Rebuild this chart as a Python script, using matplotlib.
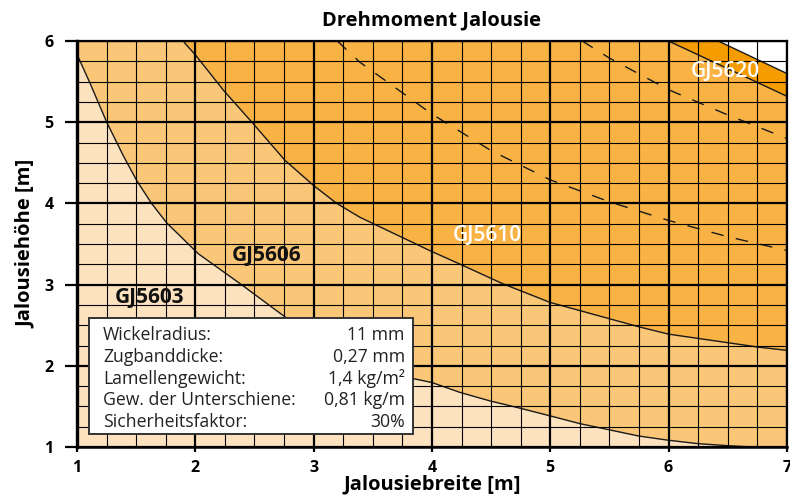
import matplotlib
matplotlib.use("Agg")
import matplotlib.pyplot as plt
from matplotlib.patches import Rectangle
from matplotlib.ticker import MultipleLocator

plt.rcParams['font.family'] = ['Open Sans', 'DejaVu Sans']

# boundary curves (width [m], height [m])
gj5603_w = [1.0, 1.02, 1.11, 1.251, 1.39, 1.505, 1.63, 1.758, 2.025, 2.38, 2.76, 3.0, 3.25, 3.5,
            3.73, 4.0, 4.24, 4.49, 4.745, 5.0, 5.25, 5.505, 5.745, 6.0, 6.25, 6.505, 6.76, 7.0]
gj5603_h = [5.84, 5.77, 5.48, 5.0, 4.59, 4.28, 4.0, 3.76, 3.38, 3.01, 2.60, 2.37, 2.16, 1.99,
            1.877, 1.794, 1.671, 1.568, 1.478, 1.383, 1.288, 1.21, 1.136, 1.083, 1.041, 1.016, 0.996, 0.99]

gj5606_w = [1.90, 1.913, 2.0, 2.237, 2.49, 2.758, 3.0, 3.195, 3.39, 3.98, 4.24, 4.6, 5.0, 5.75, 6.0, 6.76, 7.0]
gj5606_h = [6.0, 5.97, 5.83, 5.395, 4.98, 4.53, 4.22, 4.0, 3.83, 3.42, 3.25, 3.01, 2.78, 2.48, 2.39, 2.23, 2.19]

dash_low_w = [3.2, 3.39, 4.0, 4.5, 5.0, 5.5, 6.0, 6.5, 7.0]
dash_low_h = [6.0, 5.74, 5.10, 4.65, 4.29, 4.02, 3.79, 3.59, 3.42]

dash_up_w = [5.27, 5.5, 6.0, 6.5, 7.0]
dash_up_h = [6.0, 5.79, 5.40, 5.09, 4.80]

gj5610_w = [6.0, 7.0]
gj5610_h = [6.0, 5.32]

gj5620_w = [6.42, 7.0]
gj5620_h = [6.0, 5.60]

info_names = ["Wickelradius:", "Zugbanddicke:", "Lamellengewicht:",
              "Gew. der Unterschiene:", "Sicherheitsfaktor:"]
info_values = ["11 mm", "0,27 mm", "1,4 kg/m\u00b2", "0,81 kg/m", "30%"]

c_light = '#fde2bf'
c_mid = '#fac678'
c_dark = '#f9b244'
c_top = '#f49c00'

fig = plt.figure(figsize=(7.9, 4.97), dpi=100)
ax = fig.add_axes([0.0975, 0.1006, 0.8985, 0.8169])
ax.set_xlim(1, 7)
ax.set_ylim(1, 6)

# colour bands, stacked from top to bottom
ax.set_facecolor(c_dark)
ax.fill(gj5610_w + [7.0, 7.0], gj5610_h + [6.0, 6.0], color=c_top, lw=0, zorder=1)
ax.fill(gj5620_w + [7.0], gj5620_h + [6.0], color='white', lw=0, zorder=1)
ax.fill_between([1.0] + gj5606_w, [6.0] + gj5606_h, 0, color=c_mid, lw=0, zorder=1)
ax.fill_between(gj5603_w, gj5603_h, 0, color=c_light, lw=0, zorder=1)

for w, h in [(gj5603_w, gj5603_h), (gj5606_w, gj5606_h),
             (gj5610_w, gj5610_h), (gj5620_w, gj5620_h)]:
    ax.plot(w, h, color='#1a1a1a', lw=1.0, zorder=2)
for w, h in [(dash_low_w, dash_low_h), (dash_up_w, dash_up_h)]:
    ax.plot(w, h, color='#1a1a1a', lw=1.0, dashes=(9, 9), zorder=2)

# grid
ax.xaxis.set_major_locator(MultipleLocator(1))
ax.yaxis.set_major_locator(MultipleLocator(1))
ax.xaxis.set_minor_locator(MultipleLocator(0.25))
ax.yaxis.set_minor_locator(MultipleLocator(0.25))
ax.set_axisbelow(False)
ax.grid(which='major', color='black', lw=1.6)
ax.grid(which='minor', color='black', lw=0.8)
ax.tick_params(which='minor', length=0)
ax.tick_params(axis='y', which='major', length=9, width=1.6, pad=8, labelsize=11.5)
ax.tick_params(axis='x', which='major', length=3.5, width=1.6, pad=6, labelsize=11.5)
for lab in ax.get_xticklabels() + ax.get_yticklabels():
    lab.set_fontweight('bold')
ax.spines['left'].set_linewidth(2.4)
ax.spines['bottom'].set_linewidth(1.8)
ax.spines['top'].set_linewidth(1.6)
ax.spines['right'].set_linewidth(1.6)

ax.set_title("Drehmoment Jalousie", fontsize=14.5, fontweight='bold', pad=11)
ax.set_xlabel("Jalousiebreite [m]", fontsize=14.5, fontweight='bold', labelpad=-1)
ax.set_ylabel("Jalousiehöhe [m]", fontsize=14.5, fontweight='bold', labelpad=6)

# product labels
ax.text(1.613, 2.84, "GJ5603", fontsize=15, fontweight='bold', color='#111111',
        ha='center', va='center', zorder=4)
ax.text(2.60, 3.36, "GJ5606", fontsize=15, fontweight='bold', color='#111111',
        ha='center', va='center', zorder=4)
ax.text(4.47, 3.60, "GJ5610", fontsize=15, fontweight='semibold', color='white',
        ha='center', va='center', zorder=4)
ax.text(6.48, 5.62, "GJ5620", fontsize=15, fontweight='semibold', color='white',
        ha='center', va='center', zorder=4)

# info box
ax.add_patch(Rectangle((1.10, 1.16), 2.74, 1.43, facecolor='white',
                       edgecolor='#333333', lw=1.4, zorder=5))
row_y = [2.318, 2.05, 1.78, 1.515, 1.247]
for name, val, y in zip(info_names, info_values, row_y):
    ax.text(1.22, y, name, fontsize=12.7, color='#222222', ha='left', va='baseline', zorder=6)
    ax.text(3.77, y, val, fontsize=12.7, color='#222222', ha='right', va='baseline', zorder=6)

fig.savefig("out.png", dpi=100)
